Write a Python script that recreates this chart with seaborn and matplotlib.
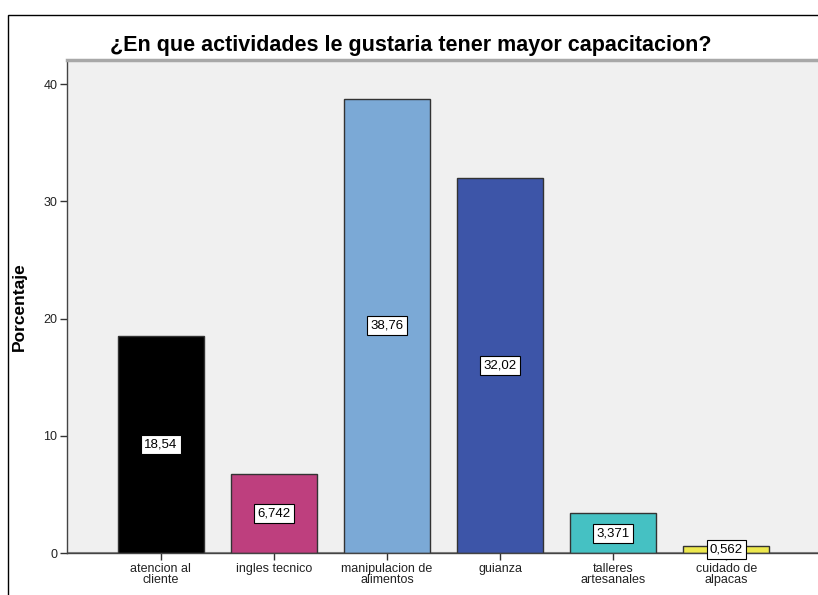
import matplotlib.pyplot as plt
import pandas as pd
import seaborn as sb
from matplotlib.patches import Rectangle

categorias = ["atencion al\ncliente", "ingles tecnico", "manipulacion de\nalimentos",
              "guianza", "talleres\nartesanales", "cuidado de\nalpacas"]
porcentajes = [18.54, 6.742, 38.76, 32.02, 3.371, 0.562]
etiquetas = ["18,54", "6,742", "38,76", "32,02", "3,371", "0,562"]
colores = ["#000000", "#BE3F7E", "#7BA9D6", "#3D55A8", "#45C1C3", "#EDE84E"]

if __name__ == "__main__":
    sb.set_style("white")
    plt.rcParams["font.family"] = ["Liberation Sans", "DejaVu Sans"]
    plt.rcParams["text.color"] = "black"
    plt.rcParams["axes.labelcolor"] = "black"

    df = pd.DataFrame({"cat": categorias, "pct": porcentajes})
    fig = plt.figure(figsize=(8.18, 5.95), dpi=100)
    ax = fig.add_axes([67 / 818, 42 / 595, 751 / 818, 493 / 595])
    ax.set_facecolor("#F0F0F0")

    sb.barplot(data=df, x="cat", y="pct", hue="cat", palette=colores, legend=False,
               width=0.76, edgecolor="#333333", linewidth=1, saturation=1, ax=ax)

    for i, (v, t) in enumerate(zip(porcentajes, etiquetas)):
        ax.text(i, v / 2, t, ha="center", va="center", fontsize=9.5,
                bbox=dict(boxstyle="square,pad=0.25", fc="white", ec="black", lw=0.8))

    ax.set_xlim(-0.83, 5.81)
    ax.set_ylim(0, 42.05)
    ax.set_yticks([0, 10, 20, 30, 40])
    ax.set_xlabel("")
    ax.set_ylabel("Porcentaje", fontsize=12.5, fontweight="bold")
    ax.yaxis.set_label_coords(-0.054, 0.5)
    ax.tick_params(axis="both", direction="out", length=5, width=1, color="#333333",
                   labelsize=9, labelcolor="#222222", pad=2, bottom=True, left=True)
    plt.setp(ax.get_xticklabels(), linespacing=0.9)

    for s in ["left", "bottom"]:
        ax.spines[s].set_color("#444444")
        ax.spines[s].set_linewidth(1)
    ax.spines["top"].set_color("#A8A8A8")
    ax.spines["top"].set_linewidth(2.5)
    ax.spines["right"].set_visible(False)
    ax.axhline(0, color="#888888", lw=1.5, zorder=0.5)

    fig.text(411 / 818, 1 - 45 / 595, "¿En que actividades le gustaria tener mayor capacitacion?",
             ha="center", va="center", fontsize=15.5, fontweight="bold", color="black")

    fig.patches.append(Rectangle((8 / 818, -0.1), 1.2, 1 - 15 / 595 + 0.1,
                                 transform=fig.transFigure, fill=False,
                                 ec="black", lw=1))

    fig.savefig("out.png", dpi=100)
